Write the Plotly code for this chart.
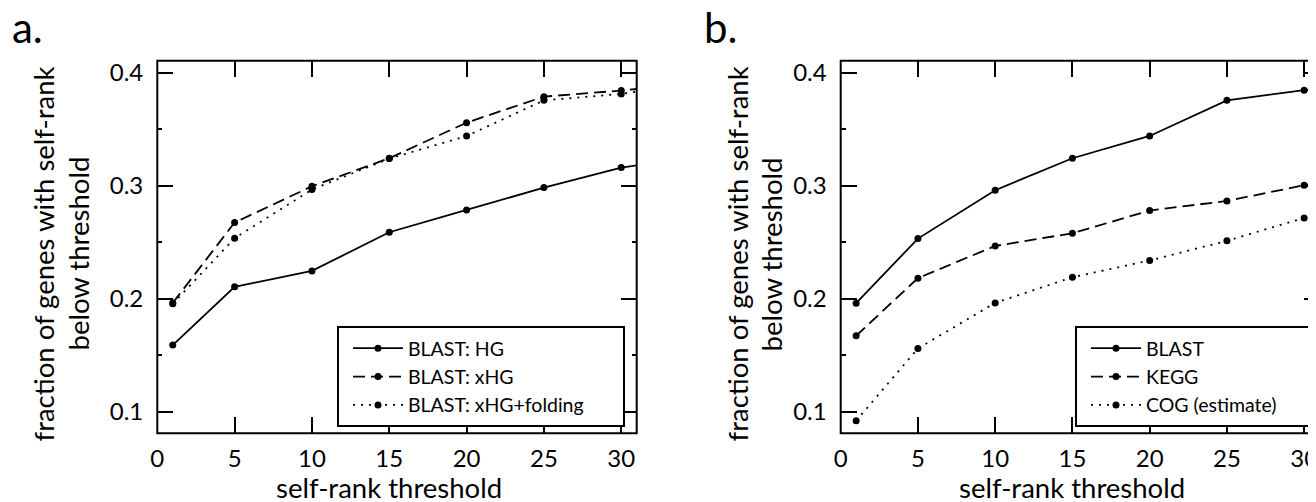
import plotly.graph_objects as go

W, H = 1316, 502
FONT = "Lato"
OFF = 8  # the page body adds an 8px margin; reference pixel coords are shifted by it

# ---------------- data ----------------
x_vals = [1, 5, 10, 15, 20, 25, 30, 35]   # 35 lies beyond the visible range (lines run off the edge)

a_names = ["BLAST: HG", "BLAST: xHG", "BLAST: xHG+folding"]
a_hg = [0.159, 0.2105, 0.2246, 0.2588, 0.2786, 0.2983, 0.316, 0.326]
a_xhg = [0.1963, 0.2674, 0.2995, 0.3243, 0.3558, 0.3788, 0.3842, 0.391]
a_fold = [0.1955, 0.2535, 0.2966, 0.324, 0.344, 0.3755, 0.3812, 0.392]

b_names = ["BLAST", "KEGG", "COG (estimate)"]
b_blast = [0.196, 0.2532, 0.296, 0.3243, 0.344, 0.3755, 0.3845, 0.392]
b_kegg = [0.1672, 0.2182, 0.2467, 0.2579, 0.278, 0.2865, 0.3004, 0.312]
b_cog = [0.092, 0.156, 0.1963, 0.219, 0.2338, 0.2512, 0.2715, 0.287]

x_ticks = [0, 5, 10, 15, 20, 25, 30]
y_ticks = [0.1, 0.2, 0.3, 0.4]
x_title = "self-rank threshold"
y_title_1 = "fraction of genes with self-rank"
y_title_2 = "below threshold"

# ---------------- geometry (reference page pixels) ----------------
def px(x):
    return (x - OFF) / W

def py(y):
    return 1 - (y - OFF) / H

A_L, A_R = 157.3, 636.7
B_L, B_R = 840.7, 1319.6
P_T, P_B = 60.7, 433.3

dash_styles = ["solid", "12px,6px", "2px,6px"]

fig = go.Figure()

for ys, name, dash in zip([a_hg, a_xhg, a_fold], a_names, dash_styles):
    fig.add_trace(go.Scatter(
        x=x_vals, y=ys, name=name, mode="lines+markers",
        line=dict(color="black", width=1.8, dash=dash),
        marker=dict(color="black", size=7),
        xaxis="x", yaxis="y", legend="legend",
    ))

for ys, name, dash in zip([b_blast, b_kegg, b_cog], b_names, dash_styles):
    fig.add_trace(go.Scatter(
        x=x_vals, y=ys, name=name, mode="lines+markers",
        line=dict(color="black", width=1.8, dash=dash),
        marker=dict(color="black", size=7),
        xaxis="x2", yaxis="y2", legend="legend2",
    ))

tickfont = dict(family=FONT, size=24, color="black")

def xaxis(dom, anchor):
    return dict(
        domain=dom, range=[0, 31], anchor=anchor, automargin=False,
        tickmode="array", tickvals=x_ticks, ticktext=[str(v) for v in x_ticks],
        ticks="inside", ticklen=16, tickwidth=2, tickcolor="black",
        mirror="ticks", showline=False, showgrid=False, zeroline=False,
        tickfont=tickfont, ticklabelstandoff=9,
    )

def yaxis(dom, anchor):
    return dict(
        domain=dom, range=[0.0809, 0.4106], anchor=anchor, automargin=False,
        tickmode="array", tickvals=y_ticks, ticktext=["%.1f" % v for v in y_ticks],
        ticks="inside", ticklen=16, tickwidth=2, tickcolor="black",
        minor=dict(dtick=0.05, tick0=0, ticks="inside", ticklen=5, tickwidth=2, tickcolor="black"),
        mirror="ticks", showline=False, showgrid=False, zeroline=False,
        tickfont=tickfont, ticklabelstandoff=13,
    )

ydom = [py(P_B), py(P_T)]

legend_font = dict(family=FONT, size=19.5, color="black")

fig.update_layout(
    width=W, height=H,
    margin=dict(l=0, r=0, t=0, b=0, autoexpand=False),
    paper_bgcolor="white", plot_bgcolor="white",
    xaxis=xaxis([px(A_L), px(A_R)], "y"),
    yaxis=yaxis(ydom, "x"),
    xaxis2=xaxis([px(B_L), px(B_R)], "y2"),
    yaxis2=yaxis(ydom, "x2"),
    legend=dict(x=px(348), y=py(329), xanchor="left", yanchor="top",
                bgcolor="rgba(0,0,0,0)", borderwidth=0, font=legend_font,
                itemwidth=50),
    legend2=dict(x=px(1086), y=py(329), xanchor="left", yanchor="top",
                 bgcolor="rgba(0,0,0,0)", borderwidth=0, font=legend_font,
                 itemwidth=50),
    showlegend=True,
)

# plot frames
shapes = []
for L, R in [(A_L, A_R), (B_L, B_R)]:
    shapes.append(dict(type="rect", xref="paper", yref="paper", x0=px(L), x1=px(R), y0=py(P_B), y1=py(P_T),
                       line=dict(color="black", width=2), layer="above"))
# legend boxes
for L, R in [(338, 624), (1076, 1311)]:
    shapes.append(dict(type="rect", xref="paper", yref="paper", x0=px(L), x1=px(R), y0=py(426), y1=py(327),
                       line=dict(color="black", width=2), fillcolor="white", layer="above"))
fig.update_layout(shapes=shapes)

TF = 27.5
ann = []
ann.append(dict(text="a.", x=px(10), y=py(27), xref="paper", yref="paper", xanchor="left", yanchor="middle",
                showarrow=False, font=dict(family=FONT, size=42, color="black")))
ann.append(dict(text="b.", x=px(702), y=py(27), xref="paper", yref="paper", xanchor="left", yanchor="middle",
                showarrow=False, font=dict(family=FONT, size=42, color="black")))
for xr, cx1, cx2 in [("x", 42.5, 77.5), ("x2", 737.4, 771.4)]:
    ann.append(dict(text=x_title, x=15, xref=xr, y=py(487), yref="paper", xanchor="center", yanchor="middle",
                    showarrow=False, font=dict(family=FONT, size=TF, color="black")))
    ann.append(dict(text=y_title_1, x=px(cx1), y=py(254), xref="paper", yref="paper", textangle=-90,
                    xanchor="center", yanchor="middle", showarrow=False, font=dict(family=FONT, size=TF, color="black")))
    ann.append(dict(text=y_title_2, x=px(cx2), y=py(254), xref="paper", yref="paper", textangle=-90,
                    xanchor="center", yanchor="middle", showarrow=False, font=dict(family=FONT, size=TF, color="black")))
fig.update_layout(annotations=ann)

fig.write_html("out.html")
